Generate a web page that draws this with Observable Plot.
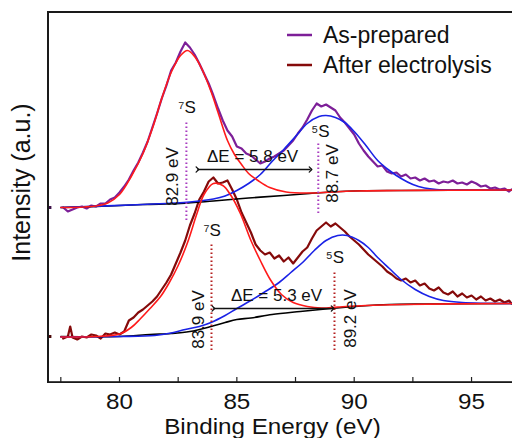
<!DOCTYPE html>
<html><head><meta charset="utf-8">
<script src="https://cdn.jsdelivr.net/npm/d3@7"></script>
<script src="https://cdn.jsdelivr.net/npm/@observablehq/plot@0.6"></script>
<style>
html,body{margin:0;padding:0;background:#fff;}
#chart{width:512px;height:438px;position:relative;}
#chart svg{display:block;}
#overlay{position:absolute;left:0;top:0;pointer-events:none;}
</style></head><body><div id="chart"></div>
<script>
// ---- tick labels & names ----
const xTicks = [80, 85, 90, 95];
const xMinorTicks = [77.5, 82.5, 87.5, 92.5];
const seriesNames = ["As-prepared", "After electrolysis"];
const xTitle = "Binding Energy (eV)";
const yTitle = "Intensity (a.u.)";

// ---- measured spectra [binding energy (eV), intensity (a.u.)] ----
const asPrepared = [[77.6,175],[77.8,171],[78.0,173],[78.2,175],[78.4,176],[78.6,174],[78.8,177],[79.0,176],[79.2,179],[79.4,179],[79.6,183],[79.8,185],[80.0,190],[80.2,196],[80.4,203],[80.6,212],[80.8,220],[81.0,230],[81.2,241],[81.4,255],[81.6,269],[81.8,284],[82.0,297],[82.2,312],[82.4,320],[82.6,331],[82.8,340],[83.0,335],[83.2,328],[83.4,319],[83.6,309],[83.8,299],[84.0,287],[84.2,274],[84.4,262],[84.6,252],[84.8,246],[85.0,236],[85.2,234],[85.4,229],[85.6,227],[85.8,223],[86.0,219],[86.2,221],[86.4,224],[86.6,226],[86.8,229],[87.0,232],[87.2,237],[87.4,242],[87.6,249],[87.8,255],[88.0,263],[88.2,272],[88.4,279],[88.6,276],[88.8,278],[89.0,275],[89.2,272],[89.4,265],[89.6,260],[89.8,254],[90.0,248],[90.2,239],[90.4,232],[90.6,226],[90.8,221],[91.0,216],[91.2,217],[91.4,211],[91.6,209],[91.8,210],[92.0,206],[92.2,208],[92.4,204],[92.6,205],[92.8,202],[93.0,204],[93.2,201],[93.4,202],[93.6,199],[93.8,201],[94.0,200],[94.2,202],[94.4,199],[94.6,200],[94.8,198],[95.0,201],[95.2,199],[95.4,196],[95.6,197],[95.8,194],[96.0,195],[96.2,193],[96.4,194],[96.6,191],[96.7,193]];

const afterElectrolysis = [[77.6,44],[77.8,46],[77.9,56],[78.0,45],[78.2,43],[78.4,46],[78.6,45],[78.8,48],[79.0,47],[79.2,44],[79.4,49],[79.6,48],[79.8,50],[80.0,48],[80.2,51],[80.4,62],[80.6,65],[80.8,70],[81.0,73],[81.2,77],[81.4,81],[81.6,86],[81.8,93],[82.0,100],[82.2,108],[82.4,119],[82.6,130],[82.8,142],[83.0,157],[83.2,169],[83.4,183],[83.6,191],[83.8,201],[84.0,205],[84.2,199],[84.4,200],[84.6,202],[84.8,193],[85.0,183],[85.2,170],[85.4,160],[85.6,150],[85.8,138],[86.0,132],[86.2,128],[86.4,130],[86.6,124],[86.8,127],[87.0,121],[87.2,125],[87.4,119],[87.6,125],[87.8,131],[88.0,135],[88.2,144],[88.4,152],[88.6,156],[88.8,160],[89.0,156],[89.2,159],[89.4,155],[89.6,151],[89.8,146],[90.0,142],[90.2,138],[90.4,133],[90.6,128],[90.8,124],[91.0,120],[91.2,116],[91.4,111],[91.6,108],[91.8,104],[92.0,102],[92.2,104],[92.4,100],[92.6,102],[92.8,97],[93.0,99],[93.2,94],[93.4,92],[93.6,95],[93.8,90],[94.0,88],[94.2,91],[94.4,86],[94.6,89],[94.8,85],[95.0,87],[95.2,83],[95.4,86],[95.6,82],[95.8,84],[96.0,81],[96.2,83],[96.4,80],[96.6,82],[96.7,79]];

// ---- fitted components ----
const asPreparedBackground = [[77.5,175],[79,176],[81,178],[82.6,179],[84,181.5],[85.5,184.5],[87,187],[88.1,189],[89,190.5],[90.3,191.7],[92,192],[96.75,192.5]];
const asPrepared7S = [[77.5,175],[78.5,175.5],[79.0,176.5],[79.5,179.5],[80.0,188],[80.5,206],[81.0,229],[81.4,254],[81.8,284],[82.2,310],[82.6,327],[82.9,332],[83.2,326],[83.5,314],[83.9,291],[84.2,270],[84.6,242],[84.9,228],[85.2,218],[85.5,209],[85.9,202],[86.4,195],[87.1,190.5],[88.1,189.5],[89,190.5],[90,191.5],[92,192],[94,192.3],[96.75,192.5]];
const asPrepared5S = [[77.5,175],[81,178],[83.0,180.5],[84.0,183.5],[84.5,186.5],[85.0,192],[85.5,199],[86.0,208],[86.5,221],[87.0,233],[87.5,246],[88.0,259],[88.5,266],[88.8,267],[89.2,265],[89.6,260],[90.0,251],[90.5,237],[91.0,222],[91.5,212],[92.0,204],[92.5,198],[93.0,194.5],[93.5,193],[94.5,192.5],[96.75,192.5]];

const afterBackground = [[77.5,46],[80,46],[81.3,48],[82.2,49],[83.0,51],[83.9,56],[84.5,60],[85.0,63],[85.6,64.5],[86.5,68],[87.7,71],[89.0,74],[90.3,76.5],[91.5,78],[93,78.5],[96.75,79]];
const after7S = [[77.5,45.5],[79,46],[80,48.5],[80.5,55],[80.9,64],[81.3,74],[81.75,86],[82.1,99],[82.5,117],[82.9,140],[83.3,169],[83.6,188],[84.0,199],[84.4,197],[84.75,187],[85.15,169],[85.6,142],[86.0,122],[86.45,102],[86.9,88],[87.4,80],[88.0,76],[88.6,74.5],[89.3,75.5],[90.5,77],[92,78],[96.75,79]];
const after5S = [[77.5,45.5],[80,46],[81.5,47],[82.2,49.5],[82.8,53],[83.4,56],[83.9,60],[84.5,67],[85.0,74],[85.6,82],[86.15,90],[86.8,100],[87.3,110],[87.8,120],[88.3,132],[88.8,142],[89.3,147],[89.7,147],[90.2,142],[90.6,135],[91.0,125],[91.5,114],[92.0,103],[92.6,93],[93.2,86],[93.8,82],[94.6,80],[96.75,79]];

// ---- annotations (energy, intensity) ----
const peakMarkersTop = [{e:82.85, i1:162, i2:260}, {e:88.47, i1:169, i2:239}];
const peakMarkersBottom = [{e:83.92, i1:32, i2:140}, {e:89.16, i1:32, i2:112}];
const stateLabels = [{e:82.88, i:275, t:"⁷S"}, {e:88.56, i:251, t:"⁵S"}, {e:83.95, i:152, t:"⁷S"}, {e:89.18, i:125, t:"⁵S"}];
const energyLabels = [{e:82.26, i:206, t:"82.9 eV"}, {e:89.08, i:209, t:"88.7 eV"}, {e:83.37, i:63, t:"83.9 eV"}, {e:89.84, i:64, t:"89.2 eV"}];
const splitArrows = [{e1:83.32, e2:88.14, i:213}, {e1:84.0, e2:89.08, i:74}];
const splitLabels = [{e:85.67, i:226, t:"ΔE = 5.8 eV"}, {e:86.69, i:87, t:"ΔE = 5.3 eV"}];
const baselineLevels = [{i:175, s:0}, {i:46, s:1}];

const xDomain = [76.975, 96.745];
const yDomain = [0, 370];

const pts = a => a.map(([e, i]) => ({e, i}));
const purple = "#7d1f98";
const maroon = "#850a0a";
const red = "#ff1a1a";
const blue = "#1a22e6";

const fit = (data, color) => Plot.line(pts(data), {x: "e", y: "i", stroke: color, strokeWidth: 1.6, curve: "catmull-rom"});

const chart = Plot.plot({
  width: 512, height: 438,
  marginLeft: 48, marginRight: 0, marginTop: 12, marginBottom: 56,
  x: {domain: xDomain, ticks: xTicks, tickSize: 0, tickPadding: 11, tickFormat: d => String(d), label: null},
  y: {domain: yDomain, axis: null},
  style: {fontFamily: "'Liberation Sans', Arial, sans-serif", fontSize: "22px", color: "#111", background: "#fff"},
  marks: [
    Plot.line(pts(asPrepared), {x: "e", y: "i", stroke: purple, strokeWidth: 2.2}),
    Plot.line(pts(afterElectrolysis), {x: "e", y: "i", stroke: maroon, strokeWidth: 2.2}),
    fit(asPreparedBackground, "#000"),
    fit(afterBackground, "#000"),
    fit(asPrepared5S, blue),
    fit(after5S, blue),
    fit(asPrepared7S, red),
    fit(after7S, red),
    Plot.ruleX(peakMarkersTop, {x: "e", y1: "i1", y2: "i2", stroke: "#a83cbf", strokeWidth: 2, strokeDasharray: "1.6,2.4"}),
    Plot.ruleX(peakMarkersBottom, {x: "e", y1: "i1", y2: "i2", stroke: "#b51f1f", strokeWidth: 2, strokeDasharray: "1.6,2.4"}),
    Plot.link(splitArrows, {x1: "e1", x2: "e2", y1: "i", y2: "i", stroke: "#111", strokeWidth: 1.3, markerStart: "arrow", markerEnd: "arrow"}),
    Plot.text(stateLabels, {x: "e", y: "i", text: "t", fontSize: 17, fill: "#111"}),
    Plot.text(energyLabels, {x: "e", y: "i", text: "t", rotate: -90, fontSize: 17, fill: "#111"}),
    Plot.text(splitLabels, {x: "e", y: "i", text: "t", fontSize: 17, fill: "#111"}),
    Plot.ruleY(baselineLevels, {y: "i", x1: xDomain[0], x2: 77.12, stroke: d => d.s ? "#4a0808" : "#3d1048", strokeWidth: 3}),
    Plot.ruleX(xTicks.concat(xMinorTicks), {y1: 0, y2: 5, stroke: "#222", strokeWidth: 1.2})
  ]
});

const host = document.getElementById("chart");
host.appendChild(chart);
const svg = d3.select(chart);

// widen the axis tick labels slightly (reference glyphs are horizontally stretched)
svg.selectAll("g[aria-label='x-axis tick label'] text").each(function() {
  const len = this.getComputedTextLength();
  this.setAttribute("textLength", len * 1.1);
  this.setAttribute("lengthAdjust", "spacingAndGlyphs");
});

// axis titles
const xt = svg.append("text").attr("x", 272.5).attr("y", 434).attr("text-anchor", "middle")
  .attr("font-size", 22).attr("fill", "#111").text(xTitle);
xt.attr("textLength", xt.node().getComputedTextLength() * 1.1).attr("lengthAdjust", "spacingAndGlyphs");
svg.append("text").attr("transform", "translate(30,182.5) rotate(-90)").attr("text-anchor", "middle")
  .attr("font-size", 25).attr("fill", "#111").text(yTitle);

// legend
const legendColors = [purple, maroon];
const leg = svg.append("g").attr("text-anchor", "start");
seriesNames.forEach((name, k) => {
  const cy = 35 + k * 30;
  leg.append("line").attr("x1", 287).attr("x2", 312).attr("y1", cy).attr("y2", cy)
    .attr("stroke", legendColors[k]).attr("stroke-width", 2.5);
  leg.append("text").attr("x", 323).attr("y", cy + 8).attr("text-anchor", "start")
    .attr("font-size", 23).attr("fill", "#111").text(name);
});

// axes frame (left, top, bottom) in an overlay layer above the chart
const overlay = d3.select(host).append("svg").attr("id", "overlay")
  .attr("width", 512).attr("height", 438);
const frame = overlay.append("g").attr("fill", "#1a1a1a");
frame.append("rect").attr("x", 47.5).attr("y", 11).attr("width", 465).attr("height", 2);
frame.append("rect").attr("x", 47).attr("y", 11).attr("width", 2).attr("height", 372);
frame.append("rect").attr("x", 47.5).attr("y", 381.2).attr("width", 465).attr("height", 1.8);
</script></body></html>
